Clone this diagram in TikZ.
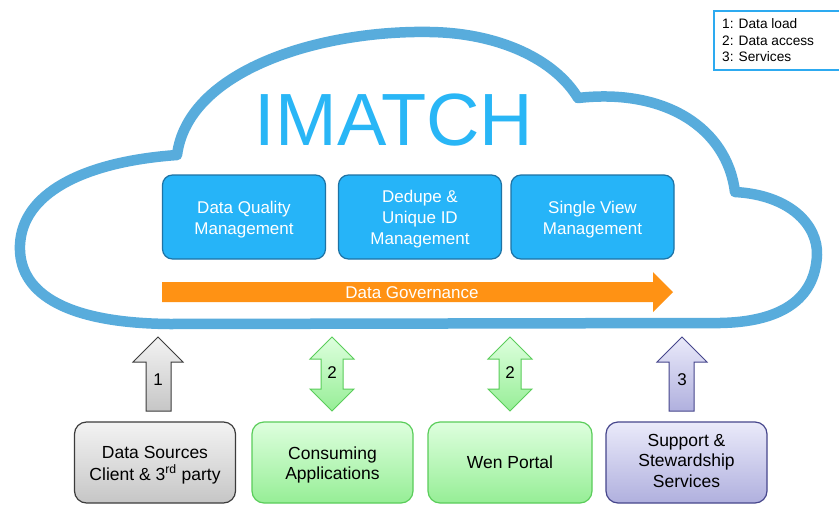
\documentclass[tikz,border=0pt]{standalone}
\usepackage{fontspec}
\setmainfont{Liberation Sans}
\definecolor{cloudblue}{RGB}{88,172,220}
\definecolor{boxblue}{RGB}{38,180,248}
\definecolor{boxblueD}{RGB}{30,115,165}
\definecolor{imatch}{RGB}{41,182,246}
\definecolor{govorange}{RGB}{255,146,20}
\definecolor{legblue}{RGB}{45,170,240}
\definecolor{grayT}{RGB}{243,243,243}
\definecolor{grayB}{RGB}{198,198,198}
\definecolor{grayD}{RGB}{60,60,60}
\definecolor{greenT}{RGB}{222,255,222}
\definecolor{greenB}{RGB}{150,238,150}
\definecolor{greenD}{RGB}{90,205,90}
\definecolor{lavT}{RGB}{234,234,250}
\definecolor{lavB}{RGB}{176,176,222}
\definecolor{lavD}{RGB}{70,70,140}
\newcommand{\lines}[2]{\raisebox{#1}[\height][\depth]{\begin{tabular}{@{}c@{}}#2\end{tabular}}}
\tikzset{
  mgmt/.style={draw=boxblueD, line width=1.2pt, fill=boxblue, rounded corners=10pt,
    minimum width=163pt, minimum height=84pt, align=center, text=white,
    font=\fontsize{17}{21}\selectfont},
  bottombox/.style={line width=1.2pt, rounded corners=12pt, minimum width=161pt,
    minimum height=81pt, align=center, font=\fontsize{17.5}{20.5}\selectfont},
  graybox/.style={bottombox, draw=grayD, top color=grayT, bottom color=grayB},
  greenbox/.style={bottombox, draw=greenD, top color=greenT, bottom color=greenB},
  lavbox/.style={bottombox, draw=lavD, top color=lavT, bottom color=lavB},
  grayarrow/.style={draw=grayD, line width=1pt, top color=grayT, bottom color=grayB, line join=miter},
  greenarrow/.style={draw=greenD, line width=1pt, top color=greenT, bottom color=greenB, line join=miter},
  lavarrow/.style={draw=lavD, line width=1pt, top color=lavT, bottom color=lavB, line join=miter},
  arrlabel/.style={font=\fontsize{17}{20}\selectfont, inner sep=0pt}
}
\begin{document}
\begin{tikzpicture}[x=1pt,y=-1pt]
\useasboundingbox (0,0) rectangle (839,504);
\fill[white] (0,0) rectangle (839,504);

% cloud
\draw[cloudblue, line width=10.5pt, fill=white, line join=round]
  (170,324) .. controls (60,323) and (18,290) .. (20,245)
  .. controls (22,195) and (80,162) .. (177,155)
  .. controls (188,70) and (320,30) .. (430,32)
  .. controls (500,33) and (555,60) .. (578,98)
  .. controls (665,88) and (727,128) .. (735,192)
  .. controls (790,195) and (818,225) .. (817,255)
  .. controls (815,300) and (780,322) .. (720,323)
  -- cycle;

\node (title) [text=imatch, font=\fontsize{74}{74}\selectfont, inner sep=0pt, anchor=base] at (394,145) {IMATCH};

% management boxes
\node (dq) [mgmt] at (244,217) {\lines{-3pt}{Data Quality\\Management}};
\node (dd) [mgmt] at (420,217) {\lines{-2pt}{Dedupe \&\\Unique ID\\Management}};
\node (sv) [mgmt] at (592.5,217) {\lines{-3pt}{Single View\\Management}};

% governance arrow
\fill[govorange] (162,282) -- (653,282) -- (653,272) -- (673,292) -- (653,312) -- (653,302) -- (162,302) -- cycle;
\node (gov) [text=white, font=\fontsize{17}{20}\selectfont, inner sep=0pt] at (412,292.5) {Data Governance};

% legend
\draw[legblue, line width=2pt] (714,11) rectangle (850,70);
\node (legend) [anchor=west, align=left, inner sep=0pt, font=\fontsize{13.7}{16.5}\selectfont] at (722,40.5)
  {1: Data load\\2: Data access\\3: Services};

% block arrows
\draw[grayarrow] (146,411) -- (146,362) -- (133,362) -- (158,337) -- (183,362) -- (171,362) -- (171,411) -- cycle;
\node (a1) [arrlabel] at (158,380) {1};

\draw[greenarrow] (321,359) -- (310,359) -- (332,337) -- (354,359) -- (343,359) -- (343,389) -- (354,389) -- (332,411) -- (310,389) -- (321,389) -- cycle;
\node (a2) [arrlabel] at (332,373) {2};

\draw[greenarrow] (499,359) -- (488,359) -- (510,337) -- (532,359) -- (521,359) -- (521,389) -- (532,389) -- (510,411) -- (488,389) -- (499,389) -- cycle;
\node (a2b) [arrlabel] at (510,373) {2};

\draw[lavarrow] (669,411) -- (669,362) -- (657,362) -- (682,337) -- (707,362) -- (694,362) -- (694,411) -- cycle;
\node (a3) [arrlabel] at (682,380) {3};

% bottom boxes
\node (src) [graybox] at (155,462.5) {\lines{-3pt}{Data Sources\\Client \& 3\textsuperscript{rd} party}};
\node (cons) [greenbox] at (332.5,462.5) {\lines{-3pt}{Consuming\\Applications}};
\node (wen) [greenbox, minimum width=164pt] at (510,462.5) {\lines{-2pt}{Wen Portal}};
\node (sup) [lavbox] at (686.5,462.5) {\lines{0pt}{Support \&\\Stewardship\\Services}};
\end{tikzpicture}
\end{document}
